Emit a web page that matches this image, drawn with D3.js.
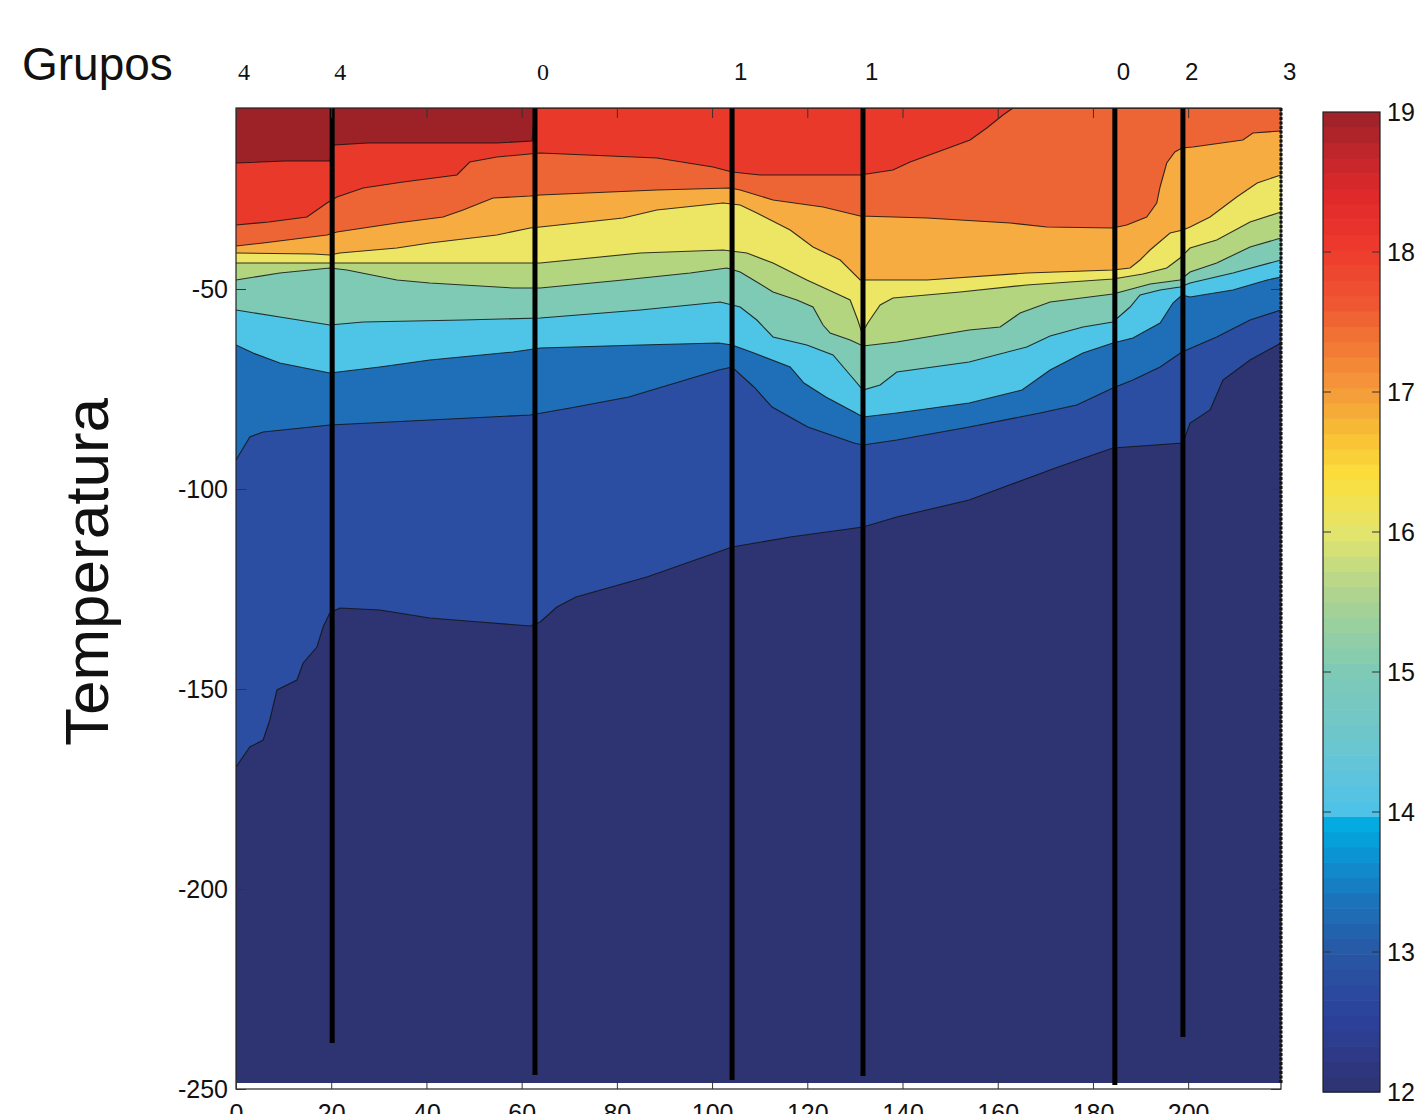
<!DOCTYPE html>
<html><head><meta charset="utf-8">
<script src="https://cdn.jsdelivr.net/npm/d3@7/dist/d3.min.js"></script>
<style>
body{margin:0;background:#fff}
text{font-family:"Liberation Sans",Arial,Helvetica,sans-serif;fill:#111}
</style>
</head><body>
<svg id="chart" width="1415" height="1114"></svg>
<script>
// ---------------- DATA ----------------
const xTicks = [0, 20, 40, 60, 80, 100, 120, 140, 160, 180, 200];
const yTicks = [-50, -100, -150, -200, -250];
const cbTicks = [12, 13, 14, 15, 16, 17, 18, 19];

const stationKm     = [0, 20.2, 62.8, 104.2, 131.7, 184.6, 198.9, 219.5];
const stationGroup  = ["4", "4", "0", "1", "1", "0", "2", "3"];
const stationBottom = [null, -238.5, -246.5, -247.75, -246.75, -249, -237, -248.5];

const dataTop = -4.75, dataBottom = -248.5, xMax = 219.5;

// isotherm levels (°C), warm to cold
const levels = [18.5, 18, 17.5, 17, 16, 15.5, 14.5, 14, 13, 12.5];

// isotherm depths [km, depth m] read from the section
const iso185 = [[0,-18.5],[10.3,-18],[19.7,-18],[20.6,-14],[27.7,-13.5],[54.8,-13.5],[62.2,-13],[62.8,-4.75],[219.5,-4.75]];
const iso180 = [[0,-34],[6.9,-33.25],[14.9,-32],[19.1,-28.5],[21.2,-27],[26.7,-24.75],[35.1,-23.25],[46.4,-21.5],[49.1,-18.25],[54.8,-17],[63.9,-16],[88.4,-17.25],[100.2,-19.5],[104.2,-20.75],[110.1,-21.5],[131.1,-21.5],[138,-20.25],[141.6,-18.25],[148.5,-15.25],[154.2,-12.75],[157.7,-9.75],[161.1,-6.5],[163.2,-4.75],[219.5,-4.75]];
const iso175 = [[0,-39.25],[5.7,-38.5],[19.1,-36.5],[21.2,-35.75],[33.8,-33.5],[43.5,-32],[47.7,-30.25],[54,-27.25],[61.8,-26.75],[63.9,-26.5],[88.4,-25.25],[103.8,-24.75],[105.9,-25.25],[112.8,-27.75],[123.3,-29.5],[131.1,-31.75],[145.1,-32.25],[162.6,-33.5],[170.3,-34.5],[184.2,-34.75],[187.1,-34],[191.3,-32],[193.4,-28.5],[194.1,-24.5],[195.5,-18.5],[197.2,-15.75],[198.7,-14.75],[201,-14.5],[211.5,-12.75],[213.6,-11],[219.5,-10.5]];
const iso170 = [[0,-41],[16.2,-41.25],[19.7,-41.5],[21.8,-41],[33.8,-39.75],[40.7,-38.5],[54.8,-36.5],[61.8,-34.75],[63.9,-34.5],[81.3,-32.25],[88.4,-30.25],[102.3,-28.5],[105.9,-29],[109.4,-31],[116.4,-35.25],[121.2,-39.5],[126.9,-42.75],[131.1,-47.75],[145.1,-47.75],[166.1,-46],[184.2,-45.25],[187.8,-44.75],[189.9,-42.75],[192,-40.25],[196.2,-36],[198.9,-35.25],[200.4,-34.5],[204.6,-32],[210.2,-27],[214.5,-23.5],[219.5,-21.5]];
const iso160 = [[0,-43.5],[40.7,-43.5],[63.9,-43.5],[84.9,-41],[102.3,-40.25],[107.3,-41],[112.8,-43.5],[119.9,-47.75],[125.4,-50.75],[129,-52.75],[130.6,-57.75],[131.5,-61],[132.7,-58.5],[135.3,-54],[138,-52.25],[152.1,-50.75],[166.1,-49],[184.2,-47.5],[190.5,-46.25],[195.5,-44.75],[198.3,-42.25],[200.4,-39.75],[206,-37.75],[213,-33.25],[219.5,-30.75]];
const iso155 = [[0,-47.75],[9.2,-46],[19.7,-44.75],[23.3,-45.25],[33.8,-47.75],[40.7,-48.5],[58.2,-49.75],[63.9,-49.75],[81.3,-47.75],[95.4,-46],[103.1,-44.75],[105.9,-45.75],[109.4,-48.25],[112.8,-50.75],[117.8,-52.75],[121.2,-54.5],[123.3,-59],[124.8,-61],[129,-62.75],[131.7,-64.25],[138.8,-63.25],[154,-60.25],[160.5,-59.5],[164.7,-56],[171,-53.25],[184.2,-51.25],[192,-48.75],[198.3,-47.75],[200.4,-45.75],[206,-43.5],[213,-39.5],[219.5,-37.25]];
const iso145 = [[0,-55.25],[9.2,-57],[19.7,-59],[26.7,-58.25],[47.7,-57.75],[63.9,-57.25],[84.9,-55.25],[101.7,-53.25],[105.9,-54.5],[109.4,-57.75],[112.8,-62],[119.9,-64],[125.4,-66.5],[129,-71.5],[131.7,-75.25],[135.3,-74],[138.8,-70.75],[154,-68.25],[166.1,-64.5],[171,-61.75],[177.9,-59.5],[184.2,-58.25],[187.8,-54.5],[189.9,-51.5],[194.1,-50.25],[198.3,-49.5],[200.4,-48.5],[209.4,-46],[219.5,-42.75]];
const iso140 = [[0,-64],[3.6,-66],[9.2,-68.5],[19.7,-71],[30.2,-69.5],[40.7,-67.75],[58.2,-65.75],[63.9,-64.75],[84.9,-64],[101.4,-63.5],[104.2,-64],[108.8,-66],[116.4,-69.5],[119.3,-73.5],[123.9,-77],[129.8,-80.75],[131.7,-82],[138.8,-81],[154,-78.5],[165.1,-75.25],[171,-70.25],[177.9,-66],[184.2,-63.5],[188.4,-62.25],[194.1,-58.5],[196.8,-53.5],[198.7,-51.5],[200.4,-52],[209.4,-50.25],[216.6,-47.75],[219.5,-47]];
const iso130 = [[0,-92.75],[2.9,-87],[5.7,-85.75],[19.7,-84],[40.7,-82.75],[61.8,-81.5],[70.2,-79.75],[82.5,-77],[101.4,-70.25],[104.2,-69.5],[108.8,-74.5],[112.6,-79.5],[120.1,-84.5],[129.8,-88.5],[131.7,-89],[138.8,-87.75],[154,-84.5],[168.9,-81],[176.6,-79],[184.2,-74.75],[188.4,-72.75],[194.1,-69.5],[198.7,-65.75],[206,-62],[213,-57.75],[219.5,-55.25]];
const iso125 = [[0,-169.5],[2.9,-164.5],[5.7,-162.75],[7.1,-157.75],[8.6,-150.25],[12.8,-147.75],[14.1,-143.5],[17,-139.5],[18.3,-134.5],[19.7,-131],[21.8,-129.75],[30.2,-130.25],[40.7,-132.25],[51.2,-133.25],[61.8,-134.25],[63.9,-133.25],[67.4,-129.5],[71.4,-127],[86.3,-122],[104.2,-114.5],[116.4,-112],[131.7,-109.5],[138.8,-107],[154,-102.75],[161.3,-99.5],[172.7,-94.5],[184.2,-89.75],[198.9,-88.5],[200.4,-83.5],[204.6,-80.25],[207.3,-72.75],[213,-67.75],[219.5,-63.5]];
const isolines = [iso185, iso180, iso175, iso170, iso160, iso155, iso145, iso140, iso130, iso125];

// colour of the filled bands (cold -> warm), thresholds = levels ascending
const bandColors = ["#2e3472","#2b4ea2","#1f6fb8","#4ec5e7","#7ecab5","#b4d580","#ede564","#f7ac42","#ee6535","#e8392b","#9c2227"];

// colorbar palette stops
const cbStopVals   = [12, 12.5, 13, 13.4, 13.7, 13.98, 14.02, 14.3, 14.6, 15, 15.3, 15.6, 16, 16.4, 16.7, 17, 17.3, 17.6, 18, 18.4, 18.7, 19];
const cbStopColors = ["#2f3270","#2d409a","#2857a5","#1a76bc","#0b94d3","#00b2e5","#4ec2e7","#62c5dc","#70c6c8","#7ecab7","#97cea0","#b2d58c","#e3e56c","#fbdf3b","#f8bf35","#f59c3a","#f27d36","#ef5a32","#ee3b2d","#e0292b","#c0262b","#9a2127"];

// ---------------- DRAW ----------------
const svg = d3.select("#chart");
const L = 236, R = 1281, T = 108, B = 1089;
const x = d3.scaleLinear([0, xMax], [L, R]);
const y = d3.scaleLinear([-250, dataTop], [B, T]);
const bandScale = d3.scaleThreshold().domain(levels.slice().sort((a,b)=>a-b)).range(bandColors);

svg.append("defs").append("clipPath").attr("id","clip")
  .append("rect").attr("x", x(0)).attr("y", y(dataTop))
  .attr("width", x(xMax)-x(0)).attr("height", y(dataBottom)-y(dataTop));

const g = svg.append("g").attr("clip-path","url(#clip)");
g.append("rect").attr("x", x(0)).attr("y", y(dataTop))
  .attr("width", x(xMax)-x(0)).attr("height", y(dataBottom)-y(dataTop))
  .attr("fill", bandScale(19));

const area = d3.area().x(d=>x(d[0])).y0(y(dataBottom)).y1(d=>y(d[1]));
const line = d3.line().x(d=>x(d[0])).y(d=>y(d[1]));

isolines.forEach((iso,i)=>{
  g.append("path").attr("d", area(iso)).attr("fill", bandScale(levels[i]-0.01));
});
isolines.forEach((iso,i)=>{
  g.append("path").attr("d", line(iso)).attr("fill","none")
    .attr("stroke","#141414").attr("stroke-width",1.1).attr("stroke-opacity",0.85);
});

// stations
stationKm.forEach((k,i)=>{
  if (stationBottom[i] === null) return;
  const last = i === stationKm.length-1;
  svg.append("line").attr("x1", x(k)).attr("x2", x(k))
    .attr("y1", y(dataTop)).attr("y2", y(stationBottom[i]))
    .attr("stroke","#000").attr("stroke-width", last ? 3 : 5)
    .attr("stroke-dasharray", last ? "3,1.5" : null);
});

// frame
svg.append("rect").attr("x",L).attr("y",T).attr("width",R-L).attr("height",B-T)
  .attr("fill","none").attr("stroke","#222").attr("stroke-width",1.2);

function styleAxis(sel){
  sel.select(".domain").remove();
  sel.selectAll(".tick line").attr("stroke","#333");
  sel.selectAll("text").style("font-size","25px").attr("fill","#111");
}
const plainNum = d => String(d);
svg.append("g").attr("transform",`translate(0,${B})`)
  .call(d3.axisBottom(x).tickValues(xTicks).tickFormat(plainNum).tickSize(-10).tickSizeOuter(0).tickPadding(15))
  .call(styleAxis);
svg.append("g").attr("transform",`translate(0,${T})`)
  .call(d3.axisTop(x).tickValues(xTicks).tickSize(-10).tickSizeOuter(0).tickFormat(""))
  .call(styleAxis);
svg.append("g").attr("transform",`translate(${L},0)`)
  .call(d3.axisLeft(y).tickValues(yTicks).tickFormat(plainNum).tickSize(-10).tickSizeOuter(0).tickPadding(8))
  .call(styleAxis);
svg.append("g").attr("transform",`translate(${R},0)`)
  .call(d3.axisRight(y).tickValues(yTicks).tickSize(-10).tickSizeOuter(0).tickFormat(""))
  .call(styleAxis);

// group labels
svg.append("g").selectAll("text").data(stationKm).join("text")
  .attr("x", d=>x(d)+2).attr("y", 80)
  .style("font-size","24px")
  .style("font-family",(d,i)=> i<3 ? "'Liberation Serif',serif" : "'Liberation Sans',Arial,sans-serif")
  .text((d,i)=>stationGroup[i]);

svg.append("text").attr("x",22).attr("y",80).style("font-size","46px").text("Grupos");
svg.append("text").attr("transform","translate(108,572) rotate(-90)")
  .attr("text-anchor","middle").style("font-size","62px").text("Temperatura");

// colorbar
const cbX0 = 1323, cbX1 = 1380;
const cy = d3.scaleLinear([12, 19], [1092, 112]);
const cbColor = d3.scaleLinear().domain(cbStopVals).range(cbStopColors);
const nCells = 64;
const cells = d3.range(nCells).map(i => 12 + i*7/nCells);
svg.append("g").selectAll("rect").data(cells).join("rect")
  .attr("x", cbX0).attr("width", cbX1-cbX0)
  .attr("y", d=>cy(d+7/nCells)).attr("height", d=>cy(d)-cy(d+7/nCells)+0.6)
  .attr("fill", d=>cbColor(d+3.5/nCells));
svg.append("rect").attr("x",cbX0).attr("y",cy(19)).attr("width",cbX1-cbX0)
  .attr("height",cy(12)-cy(19)).attr("fill","none").attr("stroke","#222").attr("stroke-width",1.2);
const cbAxis = svg.append("g");
cbTicks.forEach(t=>{
  if (t>12 && t<19){
    cbAxis.append("line").attr("x1",cbX0).attr("x2",cbX0+8).attr("y1",cy(t)).attr("y2",cy(t)).attr("stroke","#333");
    cbAxis.append("line").attr("x1",cbX1-8).attr("x2",cbX1).attr("y1",cy(t)).attr("y2",cy(t)).attr("stroke","#333");
  }
  cbAxis.append("text").attr("x",1387).attr("y",cy(t)).attr("dy","0.36em")
    .style("font-size","25px").text(t);
});
</script>
</body></html>
